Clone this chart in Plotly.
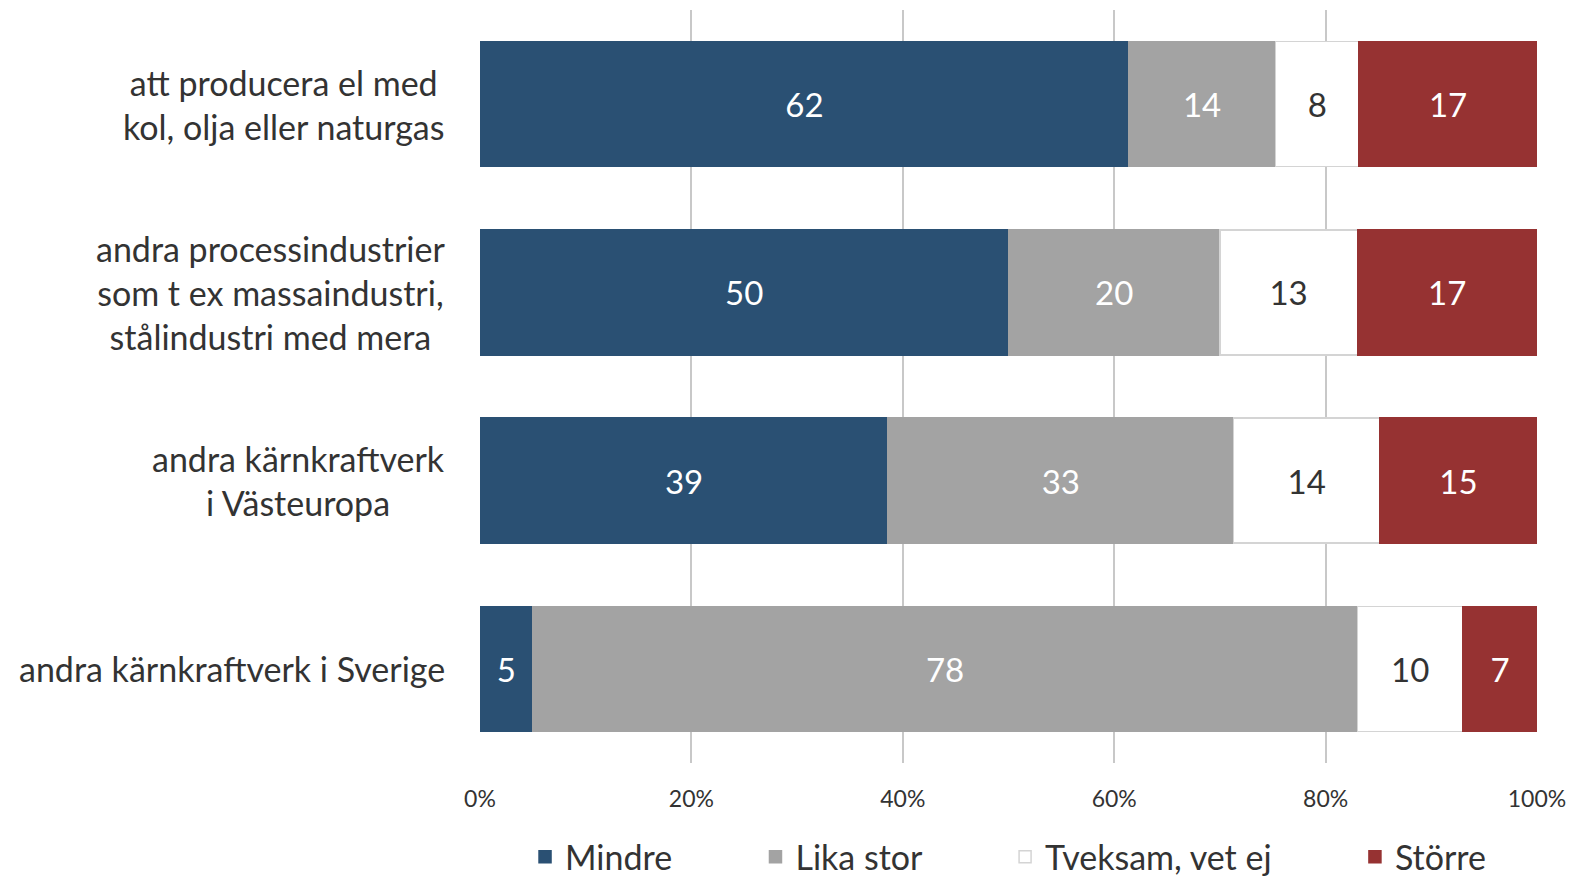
import plotly.graph_objects as go

categories = [
    "att producera el med<br>kol, olja eller naturgas",
    "andra processindustrier<br>som t ex massaindustri,<br>stålindustri med mera",
    "andra kärnkraftverk<br>i Västeuropa",
    "andra kärnkraftverk i Sverige",
]
series_names = ["Mindre", "Lika stor", "Tveksam, vet ej", "Större"]
mindre = [62, 50, 39, 5]
lika_stor = [14, 20, 33, 78]
tveksam = [8, 13, 14, 10]
storre = [17, 17, 15, 7]
x_ticks = [0, 20, 40, 60, 80, 100]
x_ticklabels = ["0%", "20%", "40%", "60%", "80%", "100%"]

values = [mindre, lika_stor, tveksam, storre]
colors = ["#2a5073", "#a3a3a3", "#ffffff", "#963232"]
line_colors = ["#2a5073", "#a3a3a3", "#d4d4d4", "#963232"]
text_colors = ["#ffffff", "#ffffff", "#333333", "#ffffff"]

FONT = "Lato"
pad = "\u00a0" * 9

fig = go.Figure()
for i, (name, vals, c, lc, tc) in enumerate(zip(series_names, values, colors, line_colors, text_colors)):
    legend_name = name + (pad if i < len(series_names) - 1 else "")
    fig.add_trace(go.Bar(
        y=categories, x=vals, orientation="h", name=legend_name,
        marker=dict(color=c, line=dict(color=lc, width=1.5)),
        text=[str(v) for v in vals], texttemplate="%{text}",
        textposition="inside", insidetextanchor="middle", constraintext="none",
        textfont=dict(family=FONT, size=33, color=tc),
    ))

for cat in categories:
    fig.add_annotation(
        x=0, xref="paper", y=cat, yref="y", xanchor="right", xshift=-33,
        text=cat, showarrow=False, align="center",
        font=dict(family=FONT, size=34, color="#333333"),
    )

fig.update_layout(
    barmode="stack", barnorm="percent", bargap=0.336,
    width=1571, height=879,
    margin=dict(l=480, r=34, t=10, b=116, autoexpand=False),
    plot_bgcolor="white", paper_bgcolor="white",
    font=dict(family=FONT, color="#333333"),
    showlegend=True,
    legend=dict(
        orientation="h", x=0.0426, xanchor="left",
        y=-0.125, yanchor="middle",
        font=dict(family=FONT, size=34, color="#333333"),
        traceorder="normal", itemclick=False,
    ),
)
fig.update_xaxes(
    range=[0, 100], tickvals=x_ticks, ticktext=x_ticklabels,
    showgrid=True, gridcolor="#c8c8c8", gridwidth=2, zeroline=False,
    showline=False, ticks="", tickfont=dict(family=FONT, size=23, color="#333333"),
    ticklabelstandoff=20, fixedrange=True,
)
fig.update_yaxes(
    categoryorder="array", categoryarray=categories, autorange="reversed",
    showticklabels=False, showgrid=False, zeroline=False, showline=False, ticks="",
)

fig.write_html(
    "out.html",
    config={"displayModeBar": False},
    post_script="document.body.style.margin='0';document.body.style.overflow='hidden';",
)
